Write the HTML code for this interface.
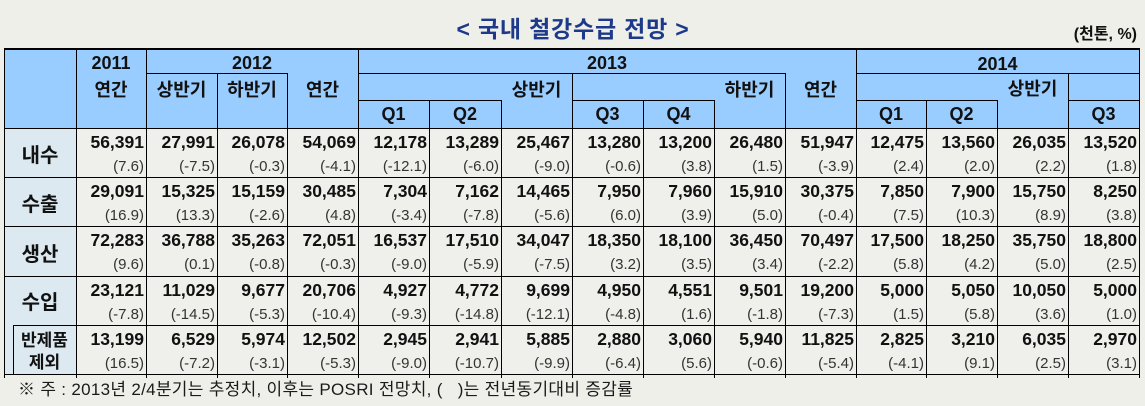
<!DOCTYPE html>
<html><head><meta charset="utf-8">
<style>
*{margin:0;padding:0;box-sizing:border-box}
html,body{width:1145px;height:406px;overflow:hidden;background:#efefea;font-family:"Liberation Sans","Noto Sans CJK KR",sans-serif;color:#111}
.a{position:absolute}
.hl{position:absolute;height:1px;background:#000}
.vl{position:absolute;width:1px;background:#000}
.t{position:absolute;text-align:center;font-weight:bold;font-size:18px;line-height:24px;height:24px;white-space:nowrap}
.row{position:absolute;left:76px;height:49px;display:flex}
.c{height:49px;text-align:right;padding-right:2px}
.n{font-weight:bold;font-size:17.5px;line-height:28px;height:28px;color:#111}
.p{font-size:15px;line-height:22px;height:22px;color:#333}
.w70{width:70px}.w71{width:71px}.w72{width:72px}
.lab{position:absolute;left:4px;width:72px;text-align:center;font-weight:bold;font-size:20px;line-height:26px;height:26px}
</style></head><body>
<div class="a" style="left:4px;top:49px;width:1135px;height:79px;background:#99ccff"></div>
<div class="a" style="left:4px;top:128px;width:72px;height:246px;background:#dde9f1"></div>
<div class="a" style="left:76px;top:128px;width:1063px;height:246px;background:#efefeb"></div>

<div class="a" style="left:447px;top:15px;width:252px;text-align:center;font-weight:bold;font-size:23px;letter-spacing:0.8px;line-height:28px;color:#1d3a8a;white-space:nowrap">&lt; 국내 철강수급 전망 &gt;</div>
<div class="a" style="left:1030px;top:25px;width:107px;text-align:right;font-weight:bold;font-size:16px;line-height:20px;white-space:nowrap">(천톤, %)</div>

<!-- header text -->
<div class="t" style="left:76px;width:70px;top:51px">2011</div>
<div class="t" style="left:76px;width:70px;top:78px">연간</div>
<div class="t" style="left:146px;width:212px;top:51px">2012</div>
<div class="t" style="left:146px;width:71px;top:78px">상반기</div>
<div class="t" style="left:217px;width:70px;top:78px">하반기</div>
<div class="t" style="left:287px;width:71px;top:78px">연간</div>
<div class="t" style="left:358px;width:498px;top:51px">2013</div>
<div class="t" style="left:358px;width:71px;top:102px">Q1</div>
<div class="t" style="left:429px;width:72px;top:102px">Q2</div>
<div class="t" style="left:501px;width:71px;top:78px">상반기</div>
<div class="t" style="left:572px;width:71px;top:102px">Q3</div>
<div class="t" style="left:643px;width:71px;top:102px">Q4</div>
<div class="t" style="left:714px;width:71px;top:78px">하반기</div>
<div class="t" style="left:785px;width:71px;top:78px">연간</div>
<div class="t" style="left:856px;width:283px;top:52px">2014</div>
<div class="t" style="left:856px;width:70px;top:102px">Q1</div>
<div class="t" style="left:926px;width:71px;top:102px">Q2</div>
<div class="t" style="left:997px;width:71px;top:77px">상반기</div>
<div class="t" style="left:1068px;width:71px;top:102px">Q3</div>

<!-- row labels -->
<div class="lab" style="top:143px">내수</div>
<div class="lab" style="top:192px">수출</div>
<div class="lab" style="top:242px">생산</div>
<div class="lab" style="top:290px">수입</div>
<div class="a" style="left:13px;width:63px;top:330px;text-align:center;font-weight:bold;font-size:17px;line-height:22px">반제품<br>제외</div>

<!-- data rows -->
<div class="row" style="top:128px">
<div class="c w70"><div class="n">56,391</div><div class="p">(7.6)</div></div>
<div class="c w71"><div class="n">27,991</div><div class="p">(-7.5)</div></div>
<div class="c w70"><div class="n">26,078</div><div class="p">(-0.3)</div></div>
<div class="c w71"><div class="n">54,069</div><div class="p">(-4.1)</div></div>
<div class="c w71"><div class="n">12,178</div><div class="p">(-12.1)</div></div>
<div class="c w72"><div class="n">13,289</div><div class="p">(-6.0)</div></div>
<div class="c w71"><div class="n">25,467</div><div class="p">(-9.0)</div></div>
<div class="c w71"><div class="n">13,280</div><div class="p">(-0.6)</div></div>
<div class="c w71"><div class="n">13,200</div><div class="p">(3.8)</div></div>
<div class="c w71"><div class="n">26,480</div><div class="p">(1.5)</div></div>
<div class="c w71"><div class="n">51,947</div><div class="p">(-3.9)</div></div>
<div class="c w70"><div class="n">12,475</div><div class="p">(2.4)</div></div>
<div class="c w71"><div class="n">13,560</div><div class="p">(2.0)</div></div>
<div class="c w71"><div class="n">26,035</div><div class="p">(2.2)</div></div>
<div class="c w71"><div class="n">13,520</div><div class="p">(1.8)</div></div>
</div>
<div class="row" style="top:177px">
<div class="c w70"><div class="n">29,091</div><div class="p">(16.9)</div></div>
<div class="c w71"><div class="n">15,325</div><div class="p">(13.3)</div></div>
<div class="c w70"><div class="n">15,159</div><div class="p">(-2.6)</div></div>
<div class="c w71"><div class="n">30,485</div><div class="p">(4.8)</div></div>
<div class="c w71"><div class="n">7,304</div><div class="p">(-3.4)</div></div>
<div class="c w72"><div class="n">7,162</div><div class="p">(-7.8)</div></div>
<div class="c w71"><div class="n">14,465</div><div class="p">(-5.6)</div></div>
<div class="c w71"><div class="n">7,950</div><div class="p">(6.0)</div></div>
<div class="c w71"><div class="n">7,960</div><div class="p">(3.9)</div></div>
<div class="c w71"><div class="n">15,910</div><div class="p">(5.0)</div></div>
<div class="c w71"><div class="n">30,375</div><div class="p">(-0.4)</div></div>
<div class="c w70"><div class="n">7,850</div><div class="p">(7.5)</div></div>
<div class="c w71"><div class="n">7,900</div><div class="p">(10.3)</div></div>
<div class="c w71"><div class="n">15,750</div><div class="p">(8.9)</div></div>
<div class="c w71"><div class="n">8,250</div><div class="p">(3.8)</div></div>
</div>
<div class="row" style="top:226px">
<div class="c w70"><div class="n">72,283</div><div class="p">(9.6)</div></div>
<div class="c w71"><div class="n">36,788</div><div class="p">(0.1)</div></div>
<div class="c w70"><div class="n">35,263</div><div class="p">(-0.8)</div></div>
<div class="c w71"><div class="n">72,051</div><div class="p">(-0.3)</div></div>
<div class="c w71"><div class="n">16,537</div><div class="p">(-9.0)</div></div>
<div class="c w72"><div class="n">17,510</div><div class="p">(-5.9)</div></div>
<div class="c w71"><div class="n">34,047</div><div class="p">(-7.5)</div></div>
<div class="c w71"><div class="n">18,350</div><div class="p">(3.2)</div></div>
<div class="c w71"><div class="n">18,100</div><div class="p">(3.5)</div></div>
<div class="c w71"><div class="n">36,450</div><div class="p">(3.4)</div></div>
<div class="c w71"><div class="n">70,497</div><div class="p">(-2.2)</div></div>
<div class="c w70"><div class="n">17,500</div><div class="p">(5.8)</div></div>
<div class="c w71"><div class="n">18,250</div><div class="p">(4.2)</div></div>
<div class="c w71"><div class="n">35,750</div><div class="p">(5.0)</div></div>
<div class="c w71"><div class="n">18,800</div><div class="p">(2.5)</div></div>
</div>
<div class="row" style="top:276px">
<div class="c w70"><div class="n">23,121</div><div class="p">(-7.8)</div></div>
<div class="c w71"><div class="n">11,029</div><div class="p">(-14.5)</div></div>
<div class="c w70"><div class="n">9,677</div><div class="p">(-5.3)</div></div>
<div class="c w71"><div class="n">20,706</div><div class="p">(-10.4)</div></div>
<div class="c w71"><div class="n">4,927</div><div class="p">(-9.3)</div></div>
<div class="c w72"><div class="n">4,772</div><div class="p">(-14.8)</div></div>
<div class="c w71"><div class="n">9,699</div><div class="p">(-12.1)</div></div>
<div class="c w71"><div class="n">4,950</div><div class="p">(-4.8)</div></div>
<div class="c w71"><div class="n">4,551</div><div class="p">(1.6)</div></div>
<div class="c w71"><div class="n">9,501</div><div class="p">(-1.8)</div></div>
<div class="c w71"><div class="n">19,200</div><div class="p">(-7.3)</div></div>
<div class="c w70"><div class="n">5,000</div><div class="p">(1.5)</div></div>
<div class="c w71"><div class="n">5,050</div><div class="p">(5.8)</div></div>
<div class="c w71"><div class="n">10,050</div><div class="p">(3.6)</div></div>
<div class="c w71"><div class="n">5,000</div><div class="p">(1.0)</div></div>
</div>
<div class="row" style="top:325px">
<div class="c w70"><div class="n">13,199</div><div class="p">(16.5)</div></div>
<div class="c w71"><div class="n">6,529</div><div class="p">(-7.2)</div></div>
<div class="c w70"><div class="n">5,974</div><div class="p">(-3.1)</div></div>
<div class="c w71"><div class="n">12,502</div><div class="p">(-5.3)</div></div>
<div class="c w71"><div class="n">2,945</div><div class="p">(-9.0)</div></div>
<div class="c w72"><div class="n">2,941</div><div class="p">(-10.7)</div></div>
<div class="c w71"><div class="n">5,885</div><div class="p">(-9.9)</div></div>
<div class="c w71"><div class="n">2,880</div><div class="p">(-6.4)</div></div>
<div class="c w71"><div class="n">3,060</div><div class="p">(5.6)</div></div>
<div class="c w71"><div class="n">5,940</div><div class="p">(-0.6)</div></div>
<div class="c w71"><div class="n">11,825</div><div class="p">(-5.4)</div></div>
<div class="c w70"><div class="n">2,825</div><div class="p">(-4.1)</div></div>
<div class="c w71"><div class="n">3,210</div><div class="p">(9.1)</div></div>
<div class="c w71"><div class="n">6,035</div><div class="p">(2.5)</div></div>
<div class="c w71"><div class="n">2,970</div><div class="p">(3.1)</div></div>
</div>

<!-- horizontal lines -->
<div class="hl" style="left:4px;top:48px;width:1136px;height:2px"></div>
<div class="hl" style="left:146px;top:73px;width:141px"></div>
<div class="hl" style="left:358px;top:73px;width:427px"></div>
<div class="hl" style="left:856px;top:73px;width:283px"></div>
<div class="hl" style="left:358px;top:100px;width:143px"></div>
<div class="hl" style="left:572px;top:100px;width:142px"></div>
<div class="hl" style="left:856px;top:100px;width:141px"></div>
<div class="hl" style="left:1068px;top:100px;width:71px"></div>
<div class="hl" style="left:4px;top:128px;width:1136px"></div>
<div class="hl" style="left:4px;top:177px;width:1136px"></div>
<div class="hl" style="left:4px;top:226px;width:1136px"></div>
<div class="hl" style="left:4px;top:276px;width:1136px"></div>
<div class="hl" style="left:13px;top:325px;width:1127px"></div>
<div class="hl" style="left:4px;top:374px;width:1136px"></div>

<!-- vertical lines -->
<div class="vl" style="left:4px;top:49px;height:329px"></div>
<div class="vl" style="left:76px;top:49px;height:329px"></div>
<div class="vl" style="left:146px;top:49px;height:329px"></div>
<div class="vl" style="left:217px;top:73px;height:305px"></div>
<div class="vl" style="left:287px;top:73px;height:305px"></div>
<div class="vl" style="left:358px;top:49px;height:329px"></div>
<div class="vl" style="left:429px;top:100px;height:278px"></div>
<div class="vl" style="left:501px;top:100px;height:278px"></div>
<div class="vl" style="left:572px;top:73px;height:305px"></div>
<div class="vl" style="left:643px;top:100px;height:278px"></div>
<div class="vl" style="left:714px;top:100px;height:278px"></div>
<div class="vl" style="left:785px;top:73px;height:305px"></div>
<div class="vl" style="left:856px;top:49px;height:329px"></div>
<div class="vl" style="left:926px;top:100px;height:278px"></div>
<div class="vl" style="left:997px;top:100px;height:278px"></div>
<div class="vl" style="left:1068px;top:73px;height:305px"></div>
<div class="vl" style="left:1139px;top:49px;height:329px"></div>
<div class="vl" style="left:13px;top:325px;height:50px"></div>

<!-- footnote -->
<div class="a" style="left:18px;top:378px;font-size:17px;letter-spacing:0.3px;line-height:24px;color:#1a1a1a;white-space:pre">※ 주 : 2013년 2/4분기는 추정치, 이후는 POSRI 전망치, (   )는 전년동기대비 증감률</div>
</body></html>
